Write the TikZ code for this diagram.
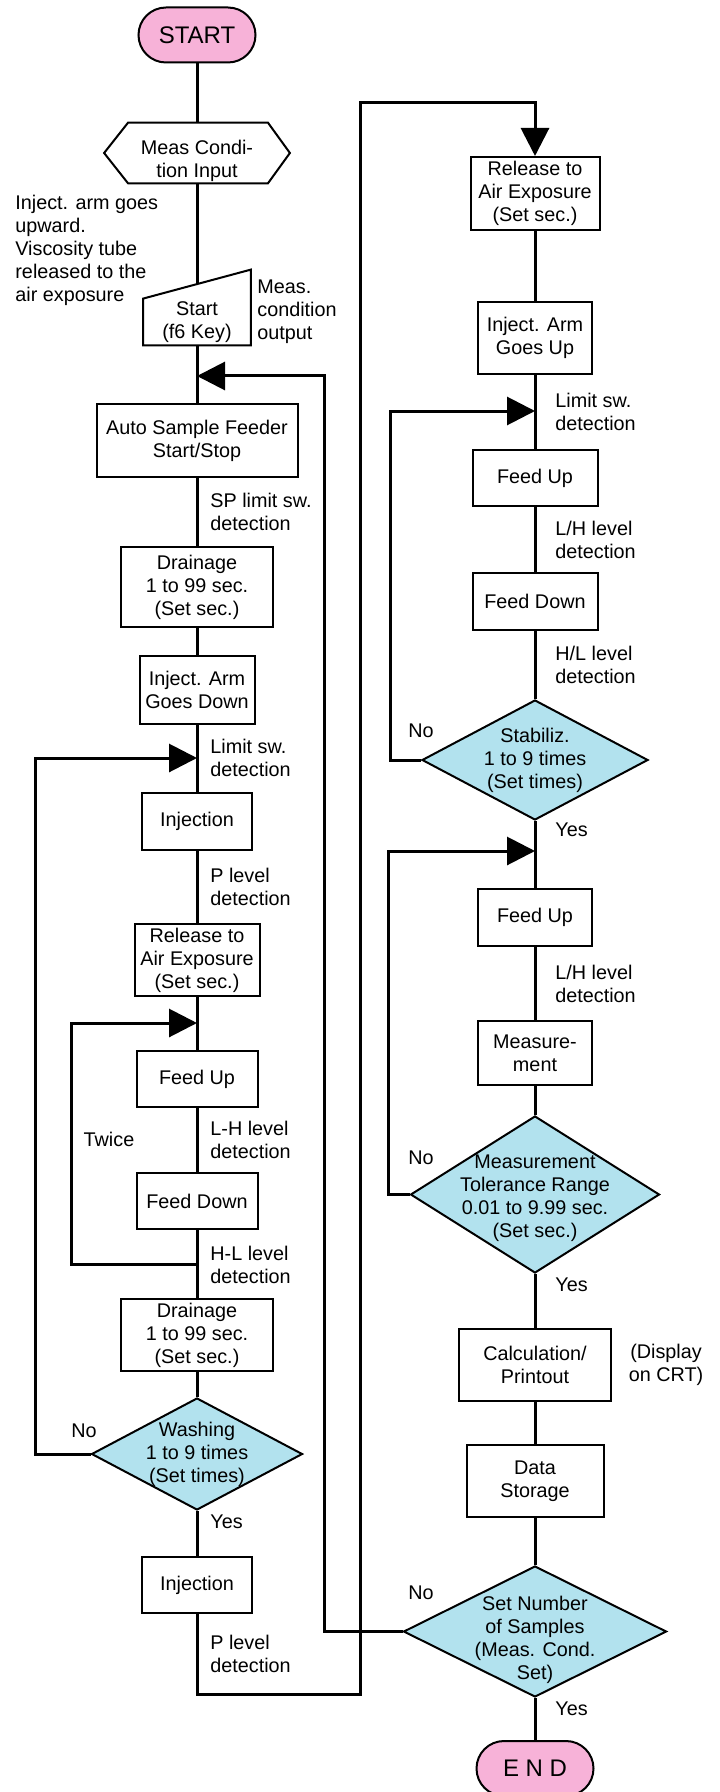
\documentclass[tikz,border=0pt]{standalone}
\usepackage{fontspec}
\setmainfont{Liberation Sans}
\usetikzlibrary{arrows.meta,shapes.geometric}

\definecolor{termpink}{RGB}{247,178,216}
\definecolor{decblue}{RGB}{178,226,238}

\begin{document}
\begin{tikzpicture}[x=0.5pt,y=-0.5pt,
    font=\fontsize{9.9}{11.5}\selectfont,
    box/.style={shape=rectangle,draw=black,line width=1pt,align=center,inner sep=1pt},
    term/.style={shape=rectangle,rounded corners=13.75pt,draw=black,line width=1pt,fill=termpink,
        minimum width=58.5pt,minimum height=27.5pt,font=\fontsize{12}{14}\selectfont},
    decision/.style={shape=diamond,draw=black,line width=1pt,fill=decblue,inner sep=0pt},
    note/.style={align=left,inner sep=0pt,anchor=west},
    flow/.style={line width=1.5pt},
    back/.style={line width=1.5pt,-{Triangle[length=14pt,width=14pt]}}]
    \useasboundingbox (0,0) rectangle (719,1792);

    \node[term] (start) at (197,35) {START};
    \node[minimum width=92.5pt,minimum height=30pt,inner sep=0pt,
        label={[align=center,yshift=-4pt]center:Meas Condi-\\tion Input}] (cond) at (197,153) {};
    \draw[line width=1pt] (cond.west) -- ([xshift=12pt]cond.north west) -- ([xshift=-11pt]cond.north east)
        -- (cond.east) -- ([xshift=-11pt]cond.south east) -- ([xshift=12pt]cond.south west) -- cycle;
    \node[align=center,minimum width=53.5pt,minimum height=23pt,inner sep=0pt] (kbd) at (197,322) {Start\\(f6 Key)};
    \draw[line width=1pt] (kbd.south west) -- (kbd.north west) -- ([yshift=14.5pt]kbd.north east)
        -- (kbd.south east) -- cycle;
    \node[note] (armnote) at (15,250) {Inject. arm goes\\upward.\\Viscosity tube\\released to the\\air exposure};
    \node[note] (outnote) at (257,312) {Meas.\\condition\\output};

    \node[box,minimum width=100.5pt,minimum height=36.5pt] (feeder) at (197,440.5) {Auto Sample Feeder\\Start/Stop};
    \node[box,minimum width=76pt,minimum height=40pt] (drainA) at (197,587) {Drainage\\1 to 99 sec.\\(Set sec.)};
    \node[box,minimum width=57.5pt,minimum height=34pt] (armdown) at (197,690) {Inject. Arm\\Goes Down};
    \node[box,minimum width=55pt,minimum height=28.5pt] (injA) at (197,821.5) {Injection};
    \node[box,minimum width=62.5pt,minimum height=36pt] (relA) at (197,960) {Release to\\Air Exposure\\(Set sec.)};
    \node[box,minimum width=60.5pt,minimum height=28pt] (upA) at (197,1079) {Feed Up};
    \node[box,minimum width=60.5pt,minimum height=28pt] (downA) at (197,1201) {Feed Down};
    \node[box,minimum width=76pt,minimum height=36pt] (drainB) at (197,1335) {Drainage\\1 to 99 sec.\\(Set sec.)};
    \node[decision,minimum width=105.5pt,minimum height=56pt,
        label={[align=center]center:Washing\\1 to 9 times\\(Set times)}] (wash) at (197,1454) {};
    \node[box,minimum width=55pt,minimum height=28pt] (injB) at (197,1585) {Injection};

    \node[box,minimum width=64.5pt,minimum height=36.5pt] (relB) at (535,193.5) {Release to\\Air Exposure\\(Set sec.)};
    \node[box,minimum width=57pt,minimum height=36pt] (armup) at (535,338) {Inject. Arm\\Goes Up};
    \node[box,minimum width=62.5pt,minimum height=28pt] (upB) at (535,478) {Feed Up};
    \node[box,minimum width=62.5pt,minimum height=28.5pt] (downB) at (535,601.5) {Feed Down};
    \node[decision,minimum width=113pt,minimum height=60pt,
        label={[align=center]center:Stabiliz.\\1 to 9 times\\(Set times)}] (stab) at (535,760) {};
    \node[box,minimum width=57pt,minimum height=28.5pt] (upC) at (535,917.5) {Feed Up};
    \node[box,minimum width=57pt,minimum height=32pt] (measure) at (535,1053) {Measure-\\ment};
    \node[decision,minimum width=124.5pt,minimum height=78.5pt,
        label={[align=center,yshift=-2pt]center:Measurement\\Tolerance Range\\0.01 to 9.99 sec.\\(Set sec.)}] (tol) at (535,1194.5) {};
    \node[box,minimum width=76pt,minimum height=36pt] (calc) at (535,1365) {Calculation/\\Printout};
    \node[box,minimum width=68.5pt,minimum height=36pt] (store) at (535,1481) {Data\\Storage};
    \node[decision,minimum width=131.5pt,minimum height=65.5pt,
        label={[align=center,yshift=-4pt]center:Set Number\\of Samples\\(Meas. Cond.\\Set)}] (count) at (535,1631.5) {};
    \node[term] (end) at (535,1768.5) {E N D};

    \node[note] (spnote) at (210,511.5) {SP limit sw.\\detection};
    \node[note] (limA) at (210,758) {Limit sw.\\detection};
    \node[note] (plevA) at (210,886.5) {P level\\detection};
    \node[note] (lhA) at (210,1140) {L-H level\\detection};
    \node[note] (hlA) at (210,1264.5) {H-L level\\detection};
    \node[note] (yesA) at (210,1522) {Yes};
    \node[note] (plevB) at (210,1653.5) {P level\\detection};
    \node (twice) at (109,1139) {Twice};
    \node (noA) at (84,1431) {No};

    \node[note] (limB) at (555,412) {Limit sw.\\detection};
    \node[note] (lhB) at (555,539.5) {L/H level\\detection};
    \node[note] (hlB) at (555,664.5) {H/L level\\detection};
    \node (noB) at (421,731) {No};
    \node[note] (yesB) at (555,830) {Yes};
    \node[note] (lhC) at (555,983.5) {L/H level\\detection};
    \node (noC) at (421,1158) {No};
    \node[note] (yesC) at (555,1285) {Yes};
    \node[align=center] (crt) at (666,1365) {(Display\\on CRT)};
    \node (noD) at (421,1593) {No};
    \node[note] (yesD) at (555,1709) {Yes};

    \coordinate (jfeed) at (197,376);
    \coordinate (jinj) at (197,758);
    \coordinate (jtwiceout) at (197,1264);
    \coordinate (jtwicein) at (197,1023);
    \coordinate (jstab) at (535,411);
    \coordinate (jmeas) at (535,851);

    \path[flow] (start) edge (cond);
    \path[flow] (cond) edge ([yshift=7.25pt]kbd.north);
    \path[flow] (kbd) edge (feeder);
    \path[flow] (feeder) edge (drainA);
    \path[flow] (drainA) edge (armdown);
    \path[flow] (armdown) edge (injA);
    \path[flow] (injA) edge (relA);
    \path[flow] (relA) edge (upA);
    \path[flow] (upA) edge (downA);
    \path[flow] (downA) edge (drainB);
    \path[flow] (drainB) edge (wash);
    \path[flow] (wash) edge (injB);

    \path[flow] (relB) edge (armup);
    \path[flow] (armup) edge (upB);
    \path[flow] (upB) edge (downB);
    \path[flow] (downB) edge (stab);
    \path[flow] (stab) edge (upC);
    \path[flow] (upC) edge (measure);
    \path[flow] (measure) edge (tol);
    \path[flow] (tol) edge (calc);
    \path[flow] (calc) edge (store);
    \path[flow] (store) edge (count);
    \path[flow] (count) edge (end);

    \draw[back] (wash.west) -- ++(-55,0) |- (jinj);
    \draw[back] (jtwiceout) -- ++(-126,0) |- (jtwicein);
    \draw[back] (stab.west) -- ++(-31,0) |- (jstab);
    \draw[back] (tol.west) -- ++(-21.5,0) |- (jmeas);
    \draw[back] (count.west) -- ++(-78.5,0) |- (jfeed);
    \draw[back] (injB.south) -- ++(0,80) -| (360,103) -| (relB.north);
\end{tikzpicture}
\end{document}
